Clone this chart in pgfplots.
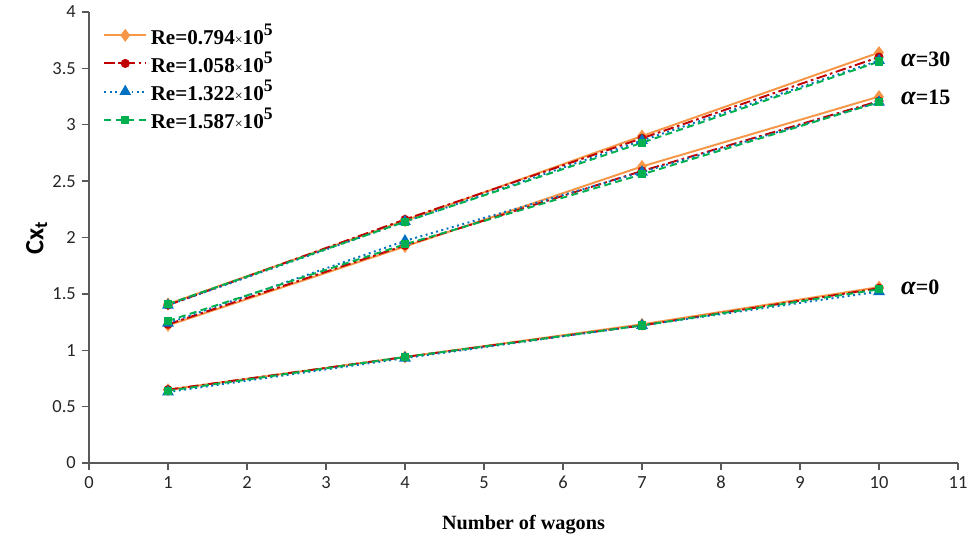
\documentclass[border=0pt]{standalone}
\usepackage{pgfplots}
\pgfplotsset{compat=1.18}
\usepackage{fontspec}
\setmainfont{Liberation Serif}
\newfontfamily\tickfont{Carlito}
\definecolor{reorange}{HTML}{F79646}
\definecolor{rered}{HTML}{C00000}
\definecolor{reblue}{HTML}{0070C0}
\definecolor{regreen}{HTML}{00B050}
\definecolor{axisgray}{HTML}{595959}

\pgfplotsset{
  sA/.style={reorange, line width=1.1pt, solid, mark=diamond*, mark size=2.8pt, mark options={solid}},
  sB/.style={rered, line width=1.1pt, dash pattern=on 6pt off 2pt on 1.5pt off 2pt, mark=*, mark size=2pt, mark options={solid}},
  sC/.style={reblue, line width=1.1pt, dotted, mark=triangle*, mark size=2.8pt, mark options={solid}},
  sD/.style={regreen, line width=1.1pt, dash pattern=on 4pt off 2.5pt, mark=square*, mark size=1.8pt, mark options={solid}},
}

\newcommand{\re}[1]{\textbf{Re=#1}{\footnotesize ×}\textbf{10\raisebox{0.9ex}{\fontsize{10}{12}\selectfont 5}}}

\begin{document}
\begin{tikzpicture}
  \begin{axis}[
    scale only axis,
    width=17.38cm, height=9.02cm,
    xmin=0, xmax=11, ymin=0, ymax=4,
    xtick={0,1,...,11},
    ytick={0,0.5,...,4},
    axis lines=left,
    axis line style={axisgray, line width=0.8pt, -},
    tick style={axisgray, line width=0.8pt},
    tick align=outside,
    major tick length=4pt,
    /pgf/number format/assume math mode=true,
    ticklabel style={font=\tickfont\fontsize{10.5}{12}\selectfont, color=black!85},
    yticklabel style={/pgf/number format/fixed, /pgf/number format/precision=1},
    xlabel={\textbf{Number of wagons}},
    xlabel style={font=\fontsize{11.5}{13}\selectfont, yshift=-8pt},
    ylabel={\textbf{Cx}\textsubscript{\textbf{t}}},
    ylabel style={font=\tickfont\fontsize{15}{17}\selectfont, yshift=-4pt},
    clip=false,
    legend style={
      at={(0.01,0.99)}, anchor=north west,
      draw=none, fill=none,
      font=\fontsize{12}{14}\selectfont,
      row sep=-1pt,
    },
    legend image code/.code={
      \draw[mark repeat=2, mark phase=2] plot coordinates {(0cm,0cm) (0.42cm,0cm) (0.84cm,0cm)};
    },
    legend cell align=left,
  ]
    % alpha = 30
    \addplot[sA] coordinates {(1,1.41) (4,2.15) (7,2.90) (10,3.64)};
    \addlegendentry{\re{0.794}}
    \addplot[sB] coordinates {(1,1.40) (4,2.16) (7,2.88) (10,3.60)};
    \addlegendentry{\re{1.058}}
    \addplot[sC] coordinates {(1,1.40) (4,2.14) (7,2.86) (10,3.57)};
    \addlegendentry{\re{1.322}}
    \addplot[sD] coordinates {(1,1.41) (4,2.14) (7,2.84) (10,3.56)};
    \addlegendentry{\re{1.587}}
    % alpha = 15
    \addplot[sA, forget plot] coordinates {(1,1.22) (4,1.92) (7,2.63) (10,3.25)};
    \addplot[sB, forget plot] coordinates {(1,1.23) (4,1.93) (7,2.59) (10,3.21)};
    \addplot[sC, forget plot] coordinates {(1,1.24) (4,1.97) (7,2.58) (10,3.20)};
    \addplot[sD, forget plot] coordinates {(1,1.26) (4,1.94) (7,2.56) (10,3.20)};
    % alpha = 0
    \addplot[sA, forget plot] coordinates {(1,0.65) (4,0.94) (7,1.23) (10,1.56)};
    \addplot[sB, forget plot] coordinates {(1,0.65) (4,0.94) (7,1.22) (10,1.55)};
    \addplot[sC, forget plot] coordinates {(1,0.63) (4,0.93) (7,1.22) (10,1.52)};
    \addplot[sD, forget plot] coordinates {(1,0.64) (4,0.94) (7,1.22) (10,1.54)};

    \node[anchor=west, font=\fontsize{12.5}{15}\selectfont] at (axis cs:10.2,3.58) {{\fontsize{15}{15}\selectfont\textbf{\textit{α}}}\textbf{=30}};
    \node[anchor=west, font=\fontsize{12.5}{15}\selectfont] at (axis cs:10.2,3.24) {{\fontsize{15}{15}\selectfont\textbf{\textit{α}}}\textbf{=15}};
    \node[anchor=west, font=\fontsize{12.5}{15}\selectfont] at (axis cs:10.2,1.56) {{\fontsize{15}{15}\selectfont\textbf{\textit{α}}}\textbf{=0}};
  \end{axis}
  \path (-1.78cm,-1.5cm) rectangle (17.82cm,9.26cm);
\end{tikzpicture}
\end{document}
